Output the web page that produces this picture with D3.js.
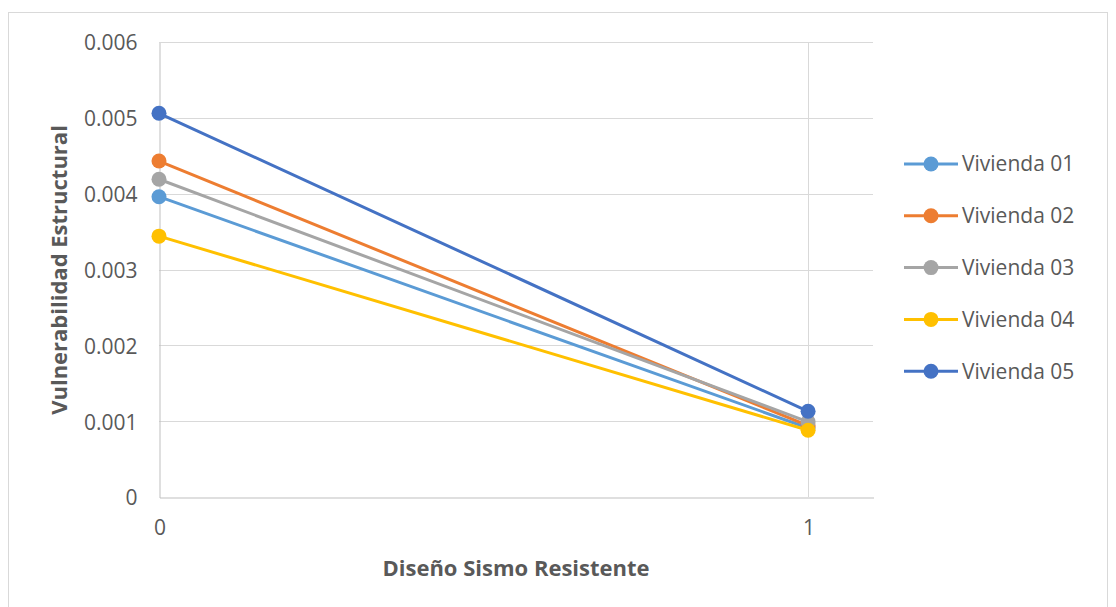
<!DOCTYPE html>
<html><head><meta charset="utf-8">
<script src="https://cdn.jsdelivr.net/npm/d3@7/dist/d3.min.js"></script>
<style>body{margin:0;background:#fff;} text{font-family:"Open Sans",sans-serif;fill:#595959;}</style>
</head><body><svg id="c" width="1116" height="607"></svg>
<script>
const xValues = [0, 1];
const seriesNames = ["Vivienda 01","Vivienda 02","Vivienda 03","Vivienda 04","Vivienda 05"];
const v01 = [0.00396, 0.00091];
const v02 = [0.00443, 0.00094];
const v03 = [0.00419, 0.00099];
const v04 = [0.00344, 0.00088];
const v05 = [0.00506, 0.00113];
const colors = ["#5B9BD5","#ED7D31","#A5A5A5","#FFC000","#4472C4"];
const yTicks = [0,0.001,0.002,0.003,0.004,0.005,0.006];
const yTickLabels = ["0","0.001","0.002","0.003","0.004","0.005","0.006"];
const xTicks = [0,1];

const svg = d3.select("#c");
svg.append("rect").attr("x",8.5).attr("y",12.5).attr("width",1099).attr("height",600)
  .attr("fill","#fff").attr("stroke","#d9d9d9");

const x = d3.scaleLinear().domain([0,1.1]).range([159,873]);
const y = d3.scaleLinear().domain([0,0.006]).range([497,42]);

// grid
svg.append("g").selectAll("line").data(yTicks.slice(1)).join("line")
  .attr("x1",159).attr("x2",873).attr("y1",d=>Math.round(y(d))+0.5).attr("y2",d=>Math.round(y(d))+0.5)
  .attr("stroke","#d9d9d9").attr("stroke-width",1);
svg.append("g").selectAll("line").data(xTicks.slice(1)).join("line")
  .attr("x1",d=>Math.round(x(d))+0.5).attr("x2",d=>Math.round(x(d))+0.5).attr("y1",42).attr("y2",497)
  .attr("stroke","#d9d9d9").attr("stroke-width",1);

// axes
const yAxis = d3.axisLeft(y).tickValues(yTicks).tickFormat((d,i)=>yTickLabels[i]).tickSize(0).tickPadding(22);
const gy = svg.append("g").attr("transform","translate(159.5,0.5)").call(yAxis);
gy.attr("font-family",null);
gy.select(".domain").attr("stroke","#bfbfbf").attr("stroke-width",1);
gy.selectAll("text").style("font-size","21px").attr("fill","#595959");
gy.selectAll(".tick text").attr("dy","0.35em");

const xAxis = d3.axisBottom(x).tickValues(xTicks).tickFormat(d3.format("d")).tickSize(0).tickPadding(23);
const gx = svg.append("g").attr("transform","translate(0.5,497.5)").call(xAxis);
gx.attr("font-family",null);
gx.select(".domain").attr("stroke","#bfbfbf").attr("stroke-width",1);
gx.selectAll("text").style("font-size","21px").attr("fill","#595959");

// titles
svg.append("text").attr("x",516).attr("y",576).attr("text-anchor","middle")
  .style("font-size","22px").style("font-weight","bold").text("Diseño Sismo Resistente");
svg.append("text").attr("transform","translate(67,270) rotate(-90)").attr("text-anchor","middle")
  .style("font-size","22px").style("font-weight","bold").text("Vulnerabilidad Estructural");

// series
const all = [v01,v02,v03,v04,v05];
const line = d3.line().x((d,i)=>x(xValues[i])).y(d=>y(d));
all.forEach((s,k)=>{
  const g = svg.append("g");
  g.append("path").attr("d",line(s)).attr("fill","none").attr("stroke",colors[k]).attr("stroke-width",3).attr("stroke-linecap","round");
  g.selectAll("circle").data(s).join("circle").attr("cx",(d,i)=>x(xValues[i])).attr("cy",d=>y(d)).attr("r",7.5).attr("fill",colors[k]);
});

// legend
const lg = svg.append("g");
seriesNames.forEach((n,k)=>{
  const ly = 164 + k*51.8;
  lg.append("line").attr("x1",904).attr("x2",958).attr("y1",ly).attr("y2",ly).attr("stroke",colors[k]).attr("stroke-width",3);
  lg.append("circle").attr("cx",931).attr("cy",ly).attr("r",7.5).attr("fill",colors[k]);
  lg.append("text").attr("x",962).attr("y",ly).attr("dy","0.35em").style("font-size","21px").text(n);
});
</script></body></html>
